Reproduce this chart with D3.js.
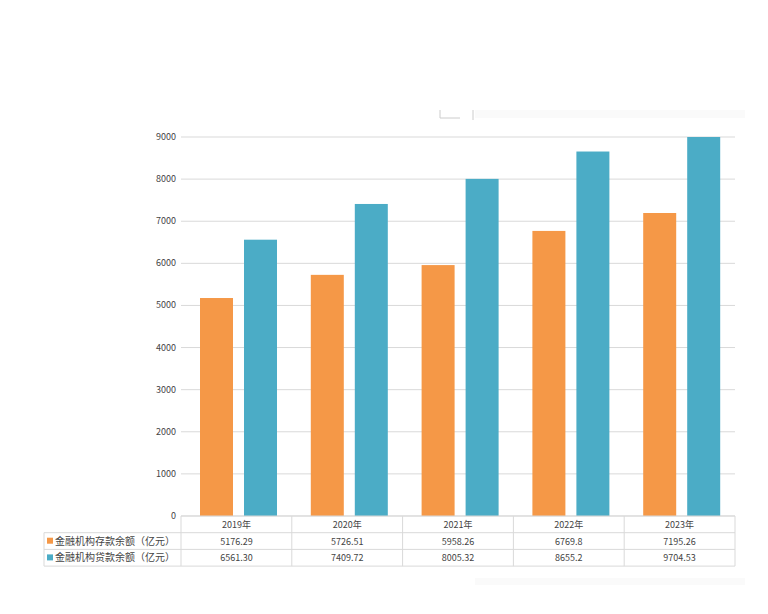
<!DOCTYPE html>
<html><head><meta charset="utf-8">
<script src="https://cdn.jsdelivr.net/npm/d3@7"></script>
<style>body{margin:0;background:#fff;}text{font-family:"Noto Sans CJK SC","Open Sans",sans-serif;}</style>
</head><body><div id="chart"></div>
<script>
var years = ['2019年','2020年','2021年','2022年','2023年'];
var deposits = [5176.29, 5726.51, 5958.26, 6769.8, 7195.26];
var loans = [6561.30, 7409.72, 8005.32, 8655.2, 9704.53];
var depositText = ['5176.29','5726.51','5958.26','6769.8','7195.26'];
var loanText = ['6561.30','7409.72','8005.32','8655.2','9704.53'];
var seriesNames = ['金融机构存款余额（亿元）','金融机构贷款余额（亿元）'];
var colors = ['#f59847','#4bacc6'];
var yTicks = d3.range(0, 10000, 1000);

var width = 768, height = 614;
var pLeft = 181, pRight = 735, pTop = 137, pBottom = 516;
var svg = d3.select('#chart').append('svg').attr('width', width).attr('height', height);

// faint panel
svg.append('rect').attr('x', 475).attr('y', 110).attr('width', 270).attr('height', 475).attr('fill', '#fafafa');
svg.append('rect').attr('x', 160).attr('y', 118).attr('width', 585).attr('height', 460).attr('fill', '#fff');
svg.append('path').attr('d', 'M440,110V118H460M473,110V120').attr('stroke', '#ccc').attr('fill', 'none');

var x = d3.scaleBand().domain(years).range([pLeft, pRight]);
var y = d3.scaleLinear().domain([0, 9000]).range([pBottom, pTop]);

svg.selectAll('.grid').data(yTicks).enter().append('line')
  .attr('x1', pLeft).attr('x2', pRight)
  .attr('y1', function(d){return y(d)}).attr('y2', function(d){return y(d)})
  .attr('stroke', '#d9d9d9');

svg.selectAll('.ylab').data(yTicks).enter().append('text')
  .attr('x', pLeft - 5).attr('y', function(d){return y(d) + 3})
  .attr('text-anchor', 'end').attr('font-size', 9).attr('fill', '#444')
  .text(function(d){return d});

var bw = 33;
svg.append('defs').append('clipPath').attr('id', 'clip')
  .append('rect').attr('x', pLeft).attr('y', pTop).attr('width', pRight - pLeft).attr('height', pBottom - pTop);
var g = svg.append('g').attr('clip-path', 'url(#clip)');
[deposits, loans].forEach(function(vals, s){
  g.selectAll('.b' + s).data(vals).enter().append('rect')
    .attr('x', function(d, i){return x(years[i]) + 19 + s * 44})
    .attr('width', bw)
    .attr('y', function(d){return y(d)})
    .attr('height', function(d){return pBottom - y(d)})
    .attr('fill', colors[s]);
});

// data table
var rowH = 16.7, tLeft = 44;
var tb = svg.append('g').attr('stroke', '#d9d9d9').attr('fill', 'none');
tb.append('line').attr('x1', pLeft).attr('x2', pRight).attr('y1', pBottom).attr('y2', pBottom);
[1, 2, 3].forEach(function(r){
  tb.append('line').attr('x1', tLeft).attr('x2', pRight)
    .attr('y1', pBottom + r * rowH).attr('y2', pBottom + r * rowH);
});
tb.append('line').attr('x1', tLeft).attr('x2', tLeft).attr('y1', pBottom + rowH).attr('y2', pBottom + 3 * rowH);
years.concat(['end']).forEach(function(d, i){
  var xx = i < years.length ? x(d) : pRight;
  tb.append('line').attr('x1', xx).attr('x2', xx).attr('y1', pBottom).attr('y2', pBottom + 3 * rowH);
});

svg.selectAll('.yr').data(years).enter().append('text')
  .attr('x', function(d){return x(d) + x.bandwidth() / 2}).attr('y', pBottom + 12)
  .attr('text-anchor', 'middle').attr('font-size', 9).attr('fill', '#444').text(function(d){return d});
[depositText, loanText].forEach(function(vals, s){
  var yy = pBottom + (s + 1) * rowH + 12;
  svg.selectAll('.v' + s).data(vals).enter().append('text')
    .attr('x', function(d, i){return x(years[i]) + x.bandwidth() / 2}).attr('y', yy)
    .attr('text-anchor', 'middle').attr('font-size', 9).attr('fill', '#444').text(function(d){return d});
  svg.append('rect').attr('x', tLeft + 3).attr('y', yy - 7).attr('width', 6).attr('height', 6).attr('fill', colors[s]);
  svg.append('text').attr('x', tLeft + 11).attr('y', yy).attr('font-size', 10).attr('fill', '#444').text(seriesNames[s]);
});
</script></body></html>
